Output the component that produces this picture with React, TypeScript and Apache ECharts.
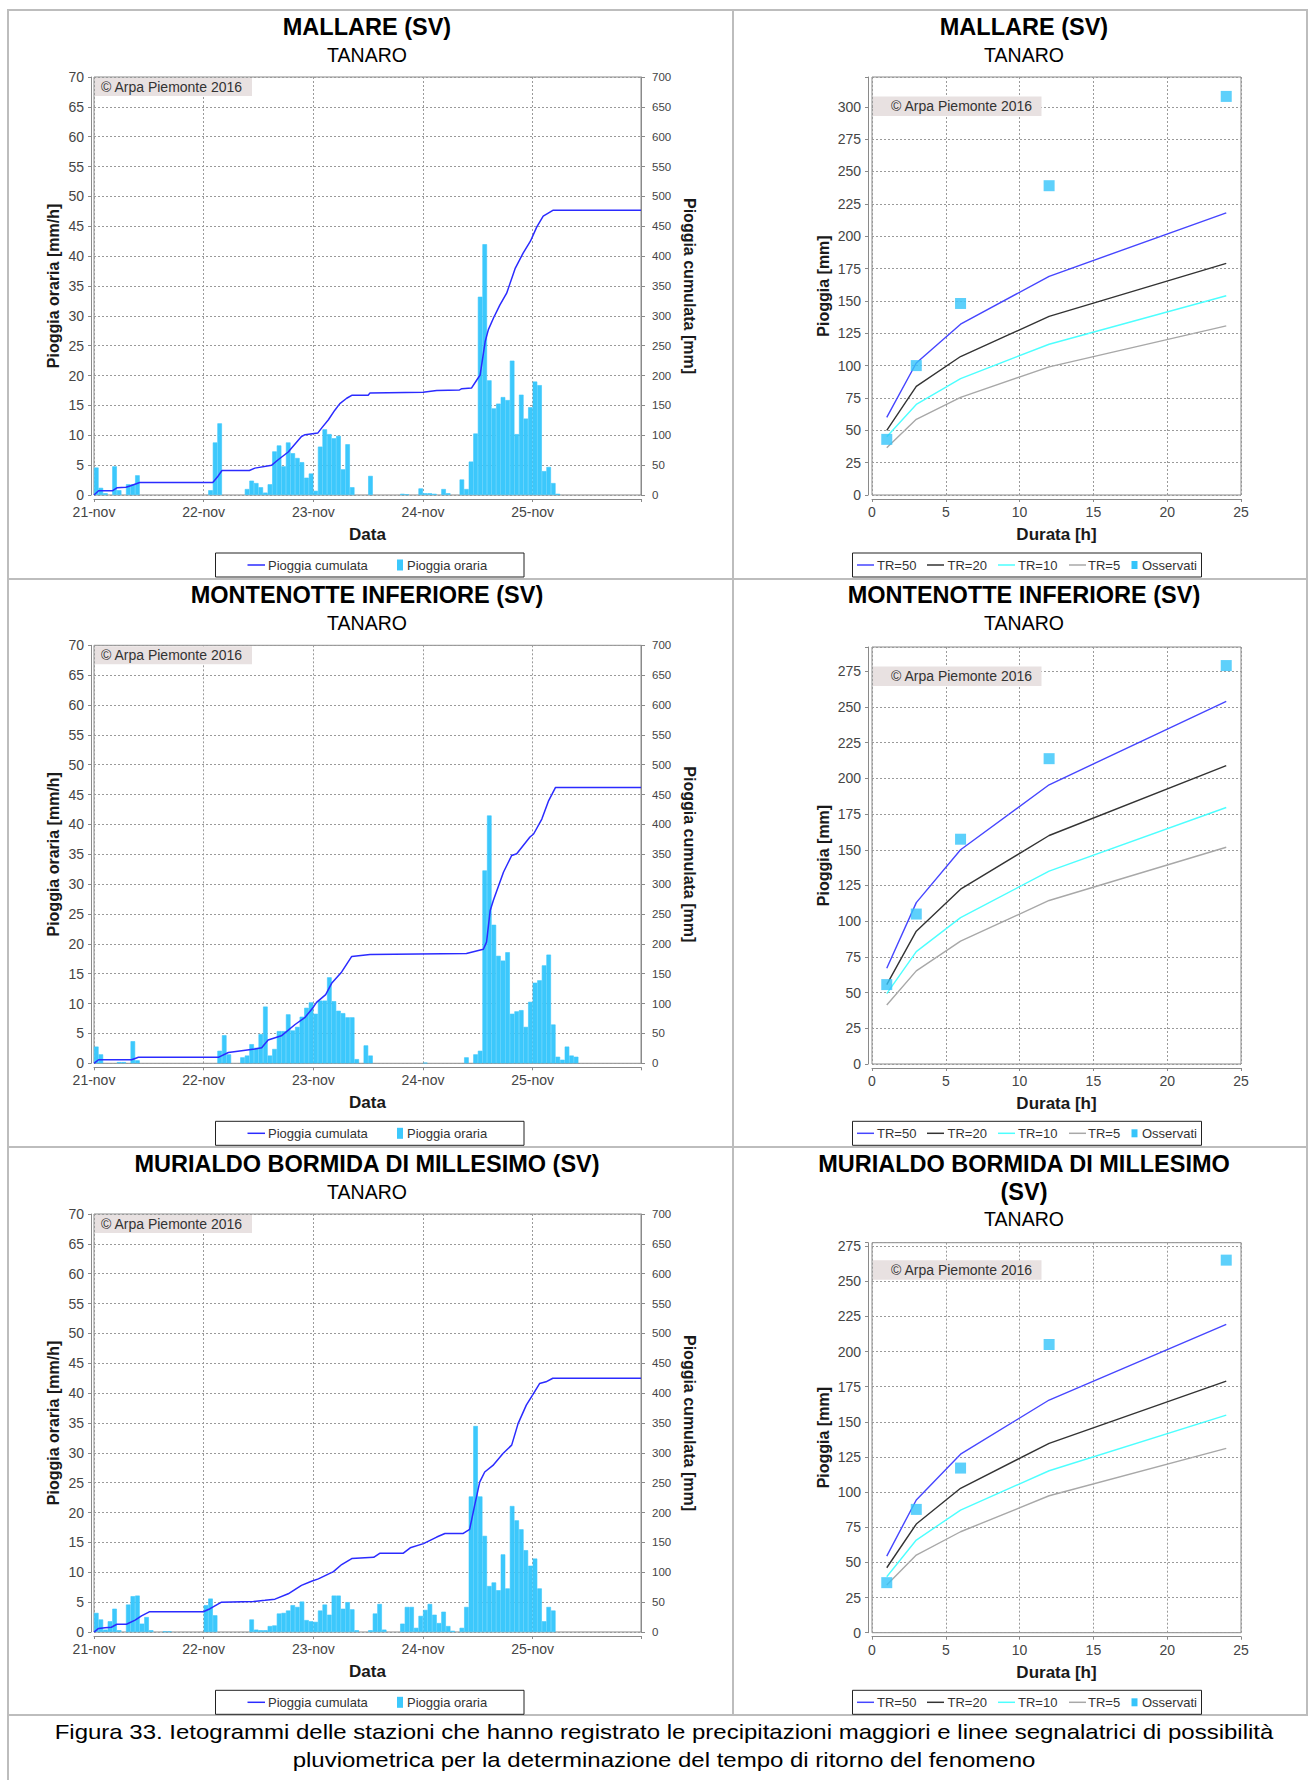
import React, { useEffect, useRef } from 'react';
import * as echarts from 'echarts';

// ---------------- data ----------------
const DATE_LABELS = ['21-nov', '22-nov', '23-nov', '24-nov', '25-nov'];
const STATION_NAMES = ['MALLARE (SV)', 'MONTENOTTE INFERIORE (SV)', 'MURIALDO BORMIDA DI MILLESIMO (SV)'];
const BASIN_NAME = 'TANARO';
const COPYRIGHT = '© Arpa Piemonte 2016';
const CAPTION_LINES = [
  'Figura 33. Ietogrammi delle stazioni che hanno registrato le precipitazioni maggiori e linee segnalatrici di possibilità',
  'pluviometrica per la determinazione del tempo di ritorno del fenomeno',
];
const HYETO_LEGEND = ['Pioggia cumulata', 'Pioggia oraria'];
const DDF_LEGEND = ['TR=50', 'TR=20', 'TR=10', 'TR=5', 'Osservati'];

// hourly rain [mm/h], hour 0 = 21-nov 00:00
const MALLARE_HOURLY = [
  4.6, 1.2, 0.3, 0, 4.8, 0.8, 0, 1.8, 1.8, 3.3, 0, 0, 0, 0, 0, 0, 0, 0, 0, 0, 0, 0, 0, 0,
  0, 0.8, 8.8, 12, 0, 0, 0, 0, 0, 1.0, 2.4, 2.0, 1.3, 0.4, 1.8, 7.3, 8.3, 4.8, 8.8, 7.0, 6.2, 5.5, 2.9, 3.6,
  0.7, 8.1, 11, 10.2, 9.5, 9.9, 4.3, 8.5, 1.3, 0, 0, 0, 3.2, 0, 0, 0, 0, 0, 0, 0.2, 0.1, 0, 0, 1.1,
  0.3, 0.3, 0.2, 0, 1.0, 0.3, 0, 0, 2.6, 1.0, 5.6, 10.3, 33.2, 42, 19.2, 14.5, 15.3, 16.4, 15.9, 22.5, 10.2, 16.8, 12.8, 14.7,
  19, 18.4, 4.0, 4.7, 2.0, 0.2, 0, 0, 0, 0, 0, 0, 0, 0, 0, 0, 0, 0, 0, 0, 0, 0, 0, 0,
];
const MONTENOTTE_HOURLY = [
  2.8, 1.5, 0, 0, 0, 0.2, 0.2, 0, 3.7, 0.5, 0, 0, 0, 0, 0, 0, 0, 0, 0, 0, 0, 0, 0, 0,
  0, 0, 0, 2.1, 4.7, 1.5, 0, 0, 1.0, 1.3, 3.2, 2.6, 4.9, 9.5, 1.3, 2.4, 5.4, 5.4, 8.2, 5.5, 6.1, 7.8, 9.3, 10.2,
  8.3, 10.5, 10.5, 14.4, 10.4, 8.8, 8.4, 7.7, 7.7, 0.7, 0, 3.0, 1.3, 0, 0, 0, 0, 0, 0, 0, 0, 0, 0, 0,
  0.1, 0, 0, 0, 0, 0, 0, 0, 0, 1.0, 0, 1.5, 2.1, 32.3, 41.5, 23.2, 18, 17.2, 18.6, 8.3, 8.7, 8.9, 6.1, 10.3,
  13.5, 13.9, 16.4, 18.2, 6.5, 1.1, 0.6, 2.8, 1.3, 1.1, 0, 0, 0, 0, 0, 0, 0, 0, 0, 0, 0, 0, 0, 0,
];
const MURIALDO_HOURLY = [
  3.2, 2.1, 0.4, 1.8, 3.9, 0.3, 0, 4.6, 6.0, 6.1, 1.4, 2.5, 0.3, 0, 0, 0.1, 0.1, 0, 0, 0, 0, 0, 0, 0,
  4.5, 5.6, 2.8, 0, 0, 0, 0, 0, 0, 0, 2.1, 0.4, 0.3, 0.3, 1.0, 1.1, 3.1, 3.2, 3.6, 4.5, 4.2, 5.1, 2.0, 1.8,
  1.7, 3.6, 4.6, 2.9, 6.1, 6.1, 3.9, 5.0, 3.8, 0.3, 0, 0, 0.3, 3.1, 4.7, 0.4, 0, 0, 0, 1.4, 4.2, 4.2, 0.7, 2.7,
  3.7, 4.7, 2.9, 1.5, 3.4, 1.0, 0.2, 0, 0.7, 4.2, 22.7, 34.5, 22.7, 16.1, 7.7, 8.3, 7.0, 13.0, 7.3, 21.1, 18.7, 17.2, 13.7, 11.1,
  12.3, 7.3, 1.8, 4.2, 3.6, 0, 0, 0, 0, 0, 0, 0, 0, 0, 0, 0, 0, 0, 0, 0, 0, 0, 0, 0,
];

// cumulative rain [hour, mm]
const MALLARE_CUM = [
  [0, 0], [1, 7], [4, 7], [5, 12], [7, 13], [8.2, 16], [10, 21], [26, 21], [27, 30], [28, 41], [34, 41],
  [35.2, 45], [38.9, 50], [40.3, 59], [42.5, 72], [45.4, 98], [46.2, 101], [49, 104], [49.8, 112], [51.3, 126],
  [52.7, 142], [53.8, 153], [55.3, 162], [56.4, 167], [60, 167], [60.4, 171], [72, 172], [75, 175], [80, 176],
  [80.5, 178], [82.6, 179], [83.8, 193], [84.5, 201], [85.6, 257], [86.3, 277], [87.4, 296], [88.8, 318],
  [90.3, 338], [92.2, 380], [93.9, 405], [95.5, 425], [96.9, 449], [98.3, 467], [100.5, 477], [119.7, 477],
];
const MONTENOTTE_CUM = [
  [0, 0], [0.2, 1], [1, 6], [8.2, 6], [9.3, 9], [9.7, 10], [27.2, 10], [29.4, 18], [35.2, 24], [36.7, 26],
  [38.1, 39], [41, 46], [44, 65], [46.2, 77], [48, 94], [48.7, 102], [50.7, 115], [52, 134], [54.2, 153],
  [56.4, 179], [60.4, 182], [81.5, 184], [85.2, 191], [85.9, 203], [86.7, 256], [87.4, 273], [89.6, 320],
  [91.4, 348], [92.5, 351], [95.4, 379], [96.2, 384], [98, 409], [99.5, 440], [101, 462], [119.7, 462],
];
const MURIALDO_CUM = [
  [0, 0], [0.2, 1], [1, 6], [2.4, 7], [3.8, 8], [5, 13], [7.1, 13], [9, 20], [10.4, 27], [12.2, 34], [23.9, 34],
  [25.4, 39], [27.9, 50], [34.9, 51], [37.4, 53], [39.6, 55], [42.5, 64], [45.4, 78], [47.6, 85], [49.1, 89],
  [52.4, 101], [54.2, 113], [56.4, 123], [61.2, 125], [62.6, 132], [67.7, 132], [69.2, 141], [72.1, 148],
  [75, 159], [76.8, 165], [80.8, 165], [82.2, 172], [83.3, 212], [84.4, 251], [85.5, 268], [87.3, 279],
  [89.5, 299], [91.4, 313], [92.8, 349], [94.6, 380], [96, 397], [97.5, 416], [98.9, 419], [100.4, 425], [119.7, 425],
];

// depth-duration curves [mm] at DURATIONS [h]
const DURATIONS = [1, 3, 6, 12, 24];
const MALLARE_TR50 = [60, 102, 132, 169, 218];
const MALLARE_TR20 = [50, 84, 107, 138, 179];
const MALLARE_TR10 = [45, 70, 90, 116.5, 154];
const MALLARE_TR5 = [36.6, 58.5, 75.5, 99, 130.7];
const MALLARE_OBS = [43, 100, 148, 239, 308];

const MONTENOTTE_TR50 = [67, 113, 150, 195.5, 254];
const MONTENOTTE_TR20 = [55.6, 93, 122.4, 160, 209];
const MONTENOTTE_TR10 = [49.3, 78.7, 102.5, 135, 179.6];
const MONTENOTTE_TR5 = [41.3, 65.2, 86, 114.5, 151.8];
const MONTENOTTE_OBS = [55.6, 105, 157.4, 213.8, 279];

const MURIALDO_TR50 = [54.5, 94.4, 127, 165.5, 219.3];
const MURIALDO_TR20 = [46.2, 77.3, 102.7, 134.7, 179];
const MURIALDO_TR10 = [39.8, 65.9, 87.2, 115.2, 154.8];
const MURIALDO_TR5 = [33.9, 55.2, 71.8, 97.4, 131.1];
const MURIALDO_OBS = [35.6, 87.7, 117.1, 205, 265];

// axis ranges
const HOURS_MAX = 119.7;
const HOURLY_MAX = 70;
const CUM_MAX = 700;
const DDF_X_MAX = 25;
const DDF_Y_MAX = [323, 292, 277.4];

// ---------------- styles ----------------
const FONT = '"Liberation Sans", Arial, sans-serif';
const BAR_COLOR = '#3cc8fc';
const CUM_COLOR = '#2b2bff';
const TR_COLORS = ['#4646ff', '#333333', '#4dffff', '#a8a8a8'];
const OBS_COLOR = '#35c4fa';
const GRID_LINE = '#9a9a9a';
const AXIS_COLOR = '#8a8a8a';
const LABEL_COLOR = '#454545';
const PANEL_BORDER = '#bdbdbd';
const BOX_FILL = '#e8e1e1';

function buildOption() {
  const hourly = [MALLARE_HOURLY, MONTENOTTE_HOURLY, MURIALDO_HOURLY];
  const cum = [MALLARE_CUM, MONTENOTTE_CUM, MURIALDO_CUM];
  const trs = [
    [MALLARE_TR50, MALLARE_TR20, MALLARE_TR10, MALLARE_TR5],
    [MONTENOTTE_TR50, MONTENOTTE_TR20, MONTENOTTE_TR10, MONTENOTTE_TR5],
    [MURIALDO_TR50, MURIALDO_TR20, MURIALDO_TR10, MURIALDO_TR5],
  ];
  const obs = [MALLARE_OBS, MONTENOTTE_OBS, MURIALDO_OBS];

  const leftTop = [77, 645.3, 1214];
  const leftH = 418;
  const rightTop = [77, 647, 1242.7];
  const rightH = [418, 417, 390];
  const rowDy = [0, 568.3, 1137.3];

  const grid: any[] = [];
  const xAxis: any[] = [];
  const yAxis: any[] = [];
  const series: any[] = [];
  const els: any[] = [];

  const axisLine = { show: true, onZero: false, lineStyle: { color: AXIS_COLOR, width: 1 } };
  const axisTick = { show: true, length: 3, lineStyle: { color: AXIS_COLOR } };
  const splitLine = { show: true, lineStyle: { color: GRID_LINE, type: [2, 2], width: 1 } };
  const label = (size: number, margin: number, fmt: any) => ({
    color: LABEL_COLOR, fontSize: size, fontFamily: FONT, margin, formatter: fmt,
  });
  const nameStyle = (size: number) => ({ color: '#1a1a1a', fontSize: size, fontWeight: 'bold', fontFamily: FONT });
  const mult = (step: number) => (v: number) => {
    const k = Math.round(v / step);
    return Math.abs(v - k * step) < 1e-6 ? String(Math.round(v)) : '';
  };
  const dateFmt = (v: number) => {
    const k = Math.round(v / 24);
    return Math.abs(v - k * 24) < 1e-6 && k < DATE_LABELS.length ? DATE_LABELS[k] : '';
  };

  // grids
  for (let r = 0; r < 3; r++) {
    grid.push({ left: 94, top: leftTop[r], width: 547, height: leftH, show: true, borderColor: AXIS_COLOR, borderWidth: 1, backgroundColor: 'transparent' });
  }
  for (let r = 0; r < 3; r++) {
    grid.push({ left: 872, top: rightTop[r], width: 369, height: rightH[r], show: true, borderColor: AXIS_COLOR, borderWidth: 1, backgroundColor: 'transparent' });
  }

  // hyetograph axes
  for (let r = 0; r < 3; r++) {
    xAxis.push({
      gridIndex: r, type: 'value', min: 0, max: HOURS_MAX, interval: 24, offset: 4,
      axisLine, axisTick, splitLine, axisLabel: label(14, 6, dateFmt),
      name: 'Data', nameLocation: 'middle', nameGap: 27, nameTextStyle: nameStyle(17),
    });
    yAxis.push({
      gridIndex: r, type: 'value', min: 0, max: HOURLY_MAX, interval: 5, position: 'left', offset: 3,
      axisLine, axisTick, splitLine, axisLabel: label(14, 7, mult(5)),
      name: 'Pioggia oraria [mm/h]', nameLocation: 'middle', nameRotate: 90, nameGap: 30, nameTextStyle: nameStyle(16),
    });
    yAxis.push({
      gridIndex: r, type: 'value', min: 0, max: CUM_MAX, interval: 50, position: 'right', offset: 0,
      axisLine, axisTick: { show: true, length: 4, lineStyle: { color: AXIS_COLOR } }, splitLine: { show: false },
      axisLabel: label(11.5, 11, mult(50)),
      name: 'Pioggia cumulata [mm]', nameLocation: 'middle', nameRotate: -90, nameGap: 40, nameTextStyle: nameStyle(16),
    });
  }
  // ddf axes
  for (let r = 0; r < 3; r++) {
    xAxis.push({
      gridIndex: 3 + r, type: 'value', min: 0, max: DDF_X_MAX, interval: 5, offset: 4,
      axisLine, axisTick, splitLine, axisLabel: label(14, 6, mult(5)),
      name: 'Durata [h]', nameLocation: 'middle', nameGap: 27, nameTextStyle: nameStyle(17),
    });
    yAxis.push({
      gridIndex: 3 + r, type: 'value', min: 0, max: DDF_Y_MAX[r], interval: 25, position: 'left', offset: 4,
      axisLine, axisTick, splitLine, axisLabel: label(14, 7, mult(25)),
      name: 'Pioggia [mm]', nameLocation: 'middle', nameRotate: 90, nameGap: 37, nameTextStyle: nameStyle(16),
    });
  }

  // series
  for (let r = 0; r < 3; r++) {
    const barData: any[] = [];
    hourly[r].forEach((v, i) => {
      if (v > 0) barData.push([i + 0.5, v]);
    });
    series.push({
      type: 'bar', name: HYETO_LEGEND[1], xAxisIndex: r, yAxisIndex: 2 * r,
      data: barData,
      barWidth: '100%', barGap: '0%',
      itemStyle: { color: BAR_COLOR, borderColor: BAR_COLOR, borderWidth: 0.6 },
      silent: true, z: 2,
    });
    series.push({
      type: 'line', name: HYETO_LEGEND[0], xAxisIndex: r, yAxisIndex: 2 * r + 1,
      data: cum[r], symbol: 'none', showSymbol: false,
      lineStyle: { color: CUM_COLOR, width: 1.5 }, silent: true, z: 3,
    });
  }
  for (let r = 0; r < 3; r++) {
    trs[r].forEach((arr, k) => {
      series.push({
        type: 'line', name: DDF_LEGEND[k], xAxisIndex: 3 + r, yAxisIndex: 6 + r,
        data: DURATIONS.map((d, i) => [d, arr[i]]), symbol: 'none', showSymbol: false,
        lineStyle: { color: TR_COLORS[k], width: 1.4 }, silent: true, z: 3,
      });
    });
    series.push({
      type: 'scatter', name: DDF_LEGEND[4], xAxisIndex: 3 + r, yAxisIndex: 6 + r,
      data: DURATIONS.map((d, i) => [d, obs[r][i]]), symbol: 'rect', symbolSize: 11,
      itemStyle: { color: OBS_COLOR }, silent: true, z: 4,
    });
  }

  // graphic helpers
  const txt = (x: number, y: number, text: string, size: number, weight = 'normal', align = 'center', color = '#000', scaleX = 1) => ({
    type: 'text', x, y, scaleX, z: 100, silent: true,
    style: { text, fontSize: size, fontWeight: weight, fontFamily: FONT, fill: color, textAlign: align, textVerticalAlign: 'middle' },
  });
  const ln = (x1: number, y1: number, x2: number, y2: number, color: string, width: number) => ({
    type: 'line', z: 100, silent: true, shape: { x1, y1, x2, y2 }, style: { stroke: color, lineWidth: width },
  });
  const rc = (x: number, y: number, w: number, h: number, fill: string, stroke?: string) => ({
    type: 'rect', z: 100, silent: true, shape: { x, y, width: w, height: h },
    style: stroke ? { fill, stroke, lineWidth: 1 } : { fill },
  });

  // panel borders
  els.push(ln(7, 10, 1308, 10, PANEL_BORDER, 2));
  els.push(ln(8, 9, 8, 1780, PANEL_BORDER, 2));
  els.push(ln(1307, 9, 1307, 1716, PANEL_BORDER, 2));
  els.push(ln(733, 10, 733, 1715, PANEL_BORDER, 2));
  [579, 1147, 1715].forEach((y) => els.push(ln(8, y, 1308, y, PANEL_BORDER, 2)));

  const LEFT_CX = 367;
  const RIGHT_CX = 1024;
  for (let r = 0; r < 3; r++) {
    const dy = rowDy[r];
    // titles
    els.push(txt(LEFT_CX, 27 + dy, STATION_NAMES[r], 23.5, 'bold'));
    els.push(txt(LEFT_CX, 54.7 + dy, BASIN_NAME, 19.5));
    if (r < 2) {
      els.push(txt(RIGHT_CX, 27 + dy, STATION_NAMES[r], 23.5, 'bold'));
      els.push(txt(RIGHT_CX, 54.7 + dy, BASIN_NAME, 19.5));
    } else {
      const name = STATION_NAMES[r];
      const cut = name.lastIndexOf(' ');
      els.push(txt(RIGHT_CX, 27 + dy, name.slice(0, cut), 23.5, 'bold'));
      els.push(txt(RIGHT_CX, 54.2 + dy, name.slice(cut + 1), 23.5, 'bold'));
      els.push(txt(RIGHT_CX, 81.3 + dy, BASIN_NAME, 19.5));
    }
    // copyright boxes
    const lt = leftTop[r];
    els.push(rc(95, lt + 1, 157, 18, BOX_FILL));
    els.push(txt(101, lt + 10, COPYRIGHT, 14, 'normal', 'left', '#333'));
    const cy = rightTop[r] + 0.07 * rightH[r];
    els.push(rc(873, cy - 9.7, 168.5, 19.4, BOX_FILL));
    els.push(txt(891, cy, COPYRIGHT, 14, 'normal', 'left', '#333'));

    // left legend
    const ly = 565 + dy;
    els.push(rc(215.5, ly - 12, 308.5, 24, '#ffffff', '#222'));
    els.push(ln(247.5, ly, 265, ly, CUM_COLOR, 1.5));
    els.push(txt(268, ly, HYETO_LEGEND[0], 13, 'normal', 'left', '#333'));
    els.push(rc(397, ly - 5.5, 6, 11, BAR_COLOR));
    els.push(txt(407, ly, HYETO_LEGEND[1], 13, 'normal', 'left', '#333'));

    // right legend
    els.push(rc(852.5, ly - 12, 349, 24, '#ffffff', '#222'));
    const lineX = [857, 927, 998, 1069];
    const textX = [877, 947.5, 1018, 1088];
    for (let k = 0; k < 4; k++) {
      els.push(ln(lineX[k], ly, lineX[k] + 17, ly, TR_COLORS[k], 1.5));
      els.push(txt(textX[k], ly, DDF_LEGEND[k], 13, 'normal', 'left', '#333'));
    }
    els.push(rc(1131.5, ly - 4, 6, 8, OBS_COLOR));
    els.push(txt(1142, ly, DDF_LEGEND[4], 13, 'normal', 'left', '#333'));
  }

  // caption (horizontally stretched like the original)
  els.push(txt(664, 1732, CAPTION_LINES[0], 20, 'normal', 'center', '#000', 1.2));
  els.push(txt(664, 1760, CAPTION_LINES[1], 20, 'normal', 'center', '#000', 1.2));

  return {
    animation: false,
    backgroundColor: '#ffffff',
    textStyle: { fontFamily: FONT },
    grid, xAxis, yAxis, series,
    graphic: { elements: els },
  };
}

export default function App() {
  const ref = useRef<HTMLDivElement>(null);
  useEffect(() => {
    if (!ref.current) return;
    const chart = echarts.init(ref.current, null, { renderer: 'svg' });
    chart.setOption(buildOption() as any);
    return () => chart.dispose();
  }, []);
  return (
    <div
      ref={ref}
      style={{ position: 'absolute', left: 0, top: 0, width: 1308, height: 1780, background: '#ffffff' }}
    />
  );
}
